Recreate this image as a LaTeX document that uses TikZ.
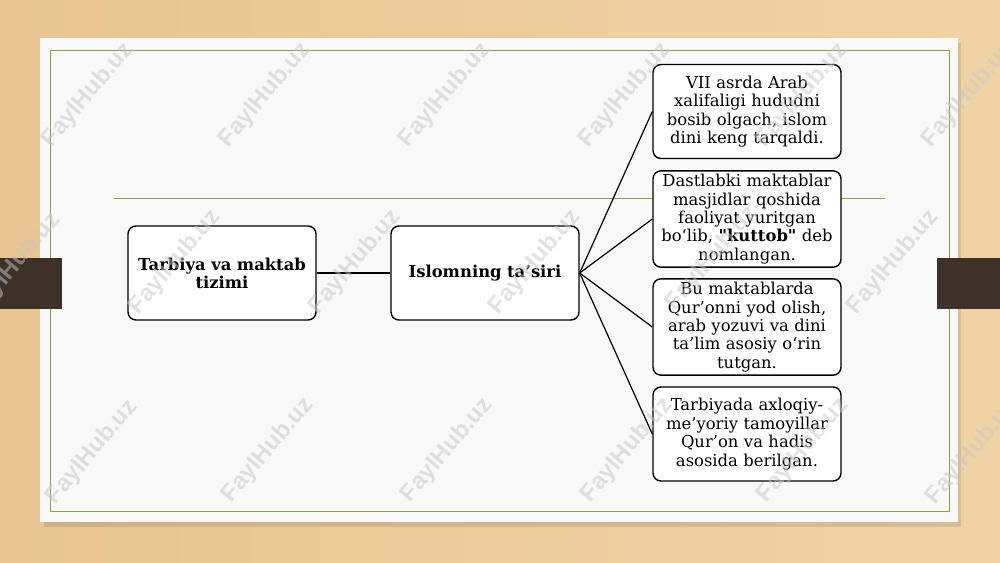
\documentclass[tikz,border=0pt]{standalone}
\usepackage{fontspec}
\setmainfont{DejaVu Serif}[Ligatures=TeXOff]
\newfontfamily\wmfont{Liberation Sans}
\definecolor{wood}{RGB}{240,211,165}
\definecolor{wooddark}{RGB}{232,197,145}
\definecolor{slide}{RGB}{248,248,248}
\definecolor{olive}{RGB}{140,160,70}
\definecolor{tabbrown}{RGB}{61,49,40}
\tikzset{
  box/.style={draw=black, line width=1.4pt, rounded corners=8pt, fill=white,
    minimum width=188pt, minimum height=94pt, text width=184pt, inner xsep=2pt,
    align=center, font=\fontsize{16.4}{18.4}\selectfont},
  mainbox/.style={box, font=\bfseries\fontsize{16.4}{18}\selectfont},
  link/.style={draw=black, line width=1.2pt},
  wmark/.style={rotate=50, text=gray!45, opacity=0.5, font=\wmfont\bfseries\fontsize{24}{24}\selectfont}
}
\begin{document}
\begin{tikzpicture}[x=1pt,y=-1pt]
\useasboundingbox (0,0) rectangle (1000,562);
% wood background
\shade[left color=wooddark, right color=wood] (0,0) rectangle (1000,562);
% shadow
\fill[black, opacity=0.10] (44,43) rectangle (961,527);
% slide
\fill[slide] (40,38) rectangle (958,522);
\draw[olive, line width=0.9pt] (50,50) rectangle (949,511);
\draw[olive, line width=0.9pt] (114,198) -- (885,198);
% tabs
\fill[tabbrown] (0,258) rectangle (62,309);
\fill[tabbrown] (937,258) rectangle (1000,309);
% nodes
\node[mainbox] (n1) at (222,273) {Tarbiya va maktab\\tizimi};
\node[mainbox] (n2) at (485,273) {Islomning ta’siri};
\node[box] (r1) at (747,111.5) {VII asrda Arab\\xalifaligi hududni\\bosib olgach, islom\\dini keng tarqaldi.};
\node[box] (r2) at (747,219) {Dastlabki maktablar\\masjidlar qoshida\\faoliyat yuritgan\\bo‘lib, \textbf{"kuttob"} deb\\nomlangan.};
\node[box] (r3) at (747,327) {Bu maktablarda\\Qur’onni yod olish,\\arab yozuvi va dini\\ta’lim asosiy o‘rin\\tutgan.};
\node[box] (r4) at (747,434) {Tarbiyada axloqiy-\\me’yoriy tamoyillar\\Qur’on va hadis\\asosida berilgan.};
% connectors
\draw[link] (n1.east) -- (n2.west);
\foreach \r in {r1,r2,r3,r4} \draw[link] (n2.east) -- (\r.west);
% watermarks
\foreach \x/\y in {88/95,265/95,445/95,625/95,802/95,968/95,
                   15/265,175/262,355/262,535/262,712/258,893/262,
                   92/452,268/450,447/450,627/450,803/450,972/452}
  \node[wmark] (w\x\y) at (\x,\y) {FaylHub.uz};
\end{tikzpicture}
\end{document}
